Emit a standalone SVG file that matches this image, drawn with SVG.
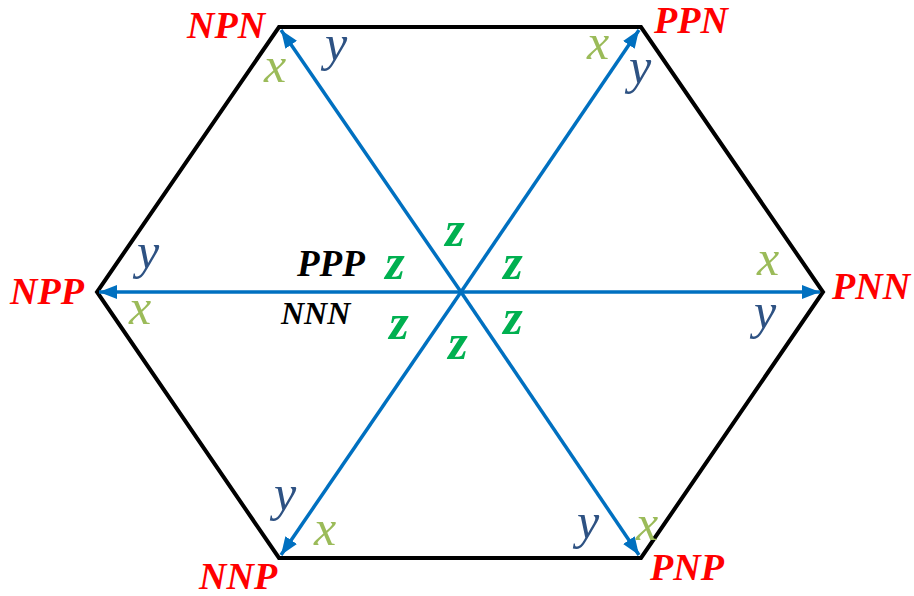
<svg xmlns="http://www.w3.org/2000/svg" width="914" height="596" viewBox="0 0 914 596">
<defs>
<style>
.hex{fill:none;stroke:#000;stroke-width:4;stroke-linejoin:miter}
.ax{fill:none;stroke:#0070C0;stroke-width:3.5}
.x{fill:#9BBB59}
.y{fill:#2E5283}
.z{fill:#00B050;font-weight:bold}
</style>
<marker id="ah" markerUnits="userSpaceOnUse" markerWidth="20" markerHeight="16" viewBox="0 0 20 16" refX="18" refY="8" orient="auto">
<path d="M0,1 L18,8 L0,15 z" fill="#0070C0"/>
</marker>
</defs>
<g id="hexagon">
<polygon class="hex" points="279,27 641,27 823,292 641,558 279,558 97,292"/>
</g>
<g id="connectors">
<line class="ax" x1="461" y1="292" x2="281" y2="30" marker-end="url(#ah)"/>
<line class="ax" x1="461" y1="292" x2="639" y2="30" marker-end="url(#ah)"/>
<line class="ax" x1="461" y1="292" x2="820" y2="292" marker-end="url(#ah)"/>
<line class="ax" x1="461" y1="292" x2="639" y2="555" marker-end="url(#ah)"/>
<line class="ax" x1="461" y1="292" x2="281" y2="555" marker-end="url(#ah)"/>
<line class="ax" x1="461" y1="292" x2="99" y2="292" marker-end="url(#ah)"/>
</g>
<g font-family="Liberation Serif, serif" font-style="italic" font-weight="bold" font-size="38" fill="#FF0000">
<g id="NPN"><text x="187" y="38">NPN</text></g>
<g id="PPN"><text x="654" y="33">PPN</text></g>
<g id="NPP"><text x="10" y="304">NPP</text></g>
<g id="PNN"><text x="832" y="299">PNN</text></g>
<g id="NNP"><text x="199" y="589">NNP</text></g>
<g id="PNP"><text x="650" y="580">PNP</text></g>
</g>
<g font-family="Liberation Serif, serif" font-style="italic" font-weight="bold" fill="#000">
<g id="PPP"><text x="297" y="276" font-size="37">PPP</text></g>
<g id="NNN"><text x="281" y="324" font-size="32">NNN</text></g>
</g>
<g id="axis-labels" font-family="Liberation Serif, serif" font-style="italic" font-size="50" text-anchor="middle">
<text class="x" x="275" y="82">x</text>
<text class="y" x="336" y="60">y</text>
<text class="x" x="598" y="59">x</text>
<text class="y" x="640" y="83">y</text>
<text class="y" x="148" y="268">y</text>
<text class="x" x="140" y="324">x</text>
<text class="x" x="768" y="275">x</text>
<text class="y" x="765" y="328">y</text>
<text class="y" x="285" y="510">y</text>
<text class="x" x="325" y="545">x</text>
<text class="y" x="588" y="538">y</text>
<text class="x" x="647" y="540">x</text>
<text class="z" x="455" y="246">z</text>
<text class="z" x="395" y="279">z</text>
<text class="z" x="513" y="279">z</text>
<text class="z" x="399" y="339">z</text>
<text class="z" x="513" y="334">z</text>
<text class="z" x="458" y="359">z</text>
</g>
</svg>
